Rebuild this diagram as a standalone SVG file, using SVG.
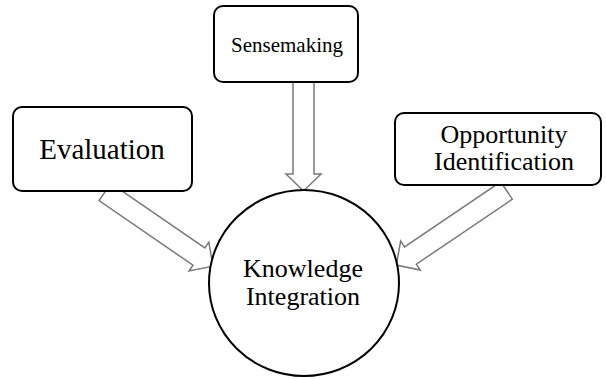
<svg xmlns="http://www.w3.org/2000/svg" width="606" height="379" viewBox="0 0 606 379">
  <style>
    .box { fill: #ffffff; stroke: #000000; stroke-width: 2; }
    .arrow { fill: #ffffff; stroke: #7a7a7a; stroke-width: 1.5; stroke-linejoin: miter; }
    .label { font-family: "Liberation Serif", "Times New Roman", serif; fill: #000000; text-anchor: middle; }
  </style>
  <rect width="606" height="379" fill="#ffffff"/>

  <!-- block arrows pointing into the central circle -->
  <g id="connectors">
    <polygon class="arrow" transform="translate(105,192) rotate(34.5)"
             points="0,-10.5 114,-10.5 114,-17.5 131,0 114,17.5 114,10.5 0,10.5"/>
    <polygon class="arrow" transform="translate(303.5,82) rotate(90)"
             points="0,-10.5 92,-10.5 92,-17.5 109,0 92,17.5 92,10.5 0,10.5"/>
    <polygon class="arrow" transform="translate(506.5,190.5) rotate(145.9)"
             points="0,-10.5 116,-10.5 116,-17.5 133,0 116,17.5 116,10.5 0,10.5"/>
  </g>

  <g id="evaluation">
    <rect class="box" x="13" y="107" width="179" height="84" rx="9"/>
    <text class="label" x="102" y="159" font-size="29">Evaluation</text>
  </g>

  <g id="sensemaking">
    <rect class="box" x="214" y="6" width="144" height="76" rx="9"/>
    <text class="label" x="287" y="52" font-size="21">Sensemaking</text>
  </g>

  <g id="opportunity-identification">
    <rect class="box" x="395" y="113" width="206" height="72" rx="9"/>
    <text class="label" x="504" y="143" font-size="26">Opportunity</text>
    <text class="label" x="504" y="170" font-size="26">Identification</text>
  </g>

  <g id="knowledge-integration">
    <ellipse class="box" cx="304" cy="283" rx="95" ry="93"/>
    <text class="label" x="303" y="277" font-size="26">Knowledge</text>
    <text class="label" x="303" y="305" font-size="26">Integration</text>
  </g>
</svg>
